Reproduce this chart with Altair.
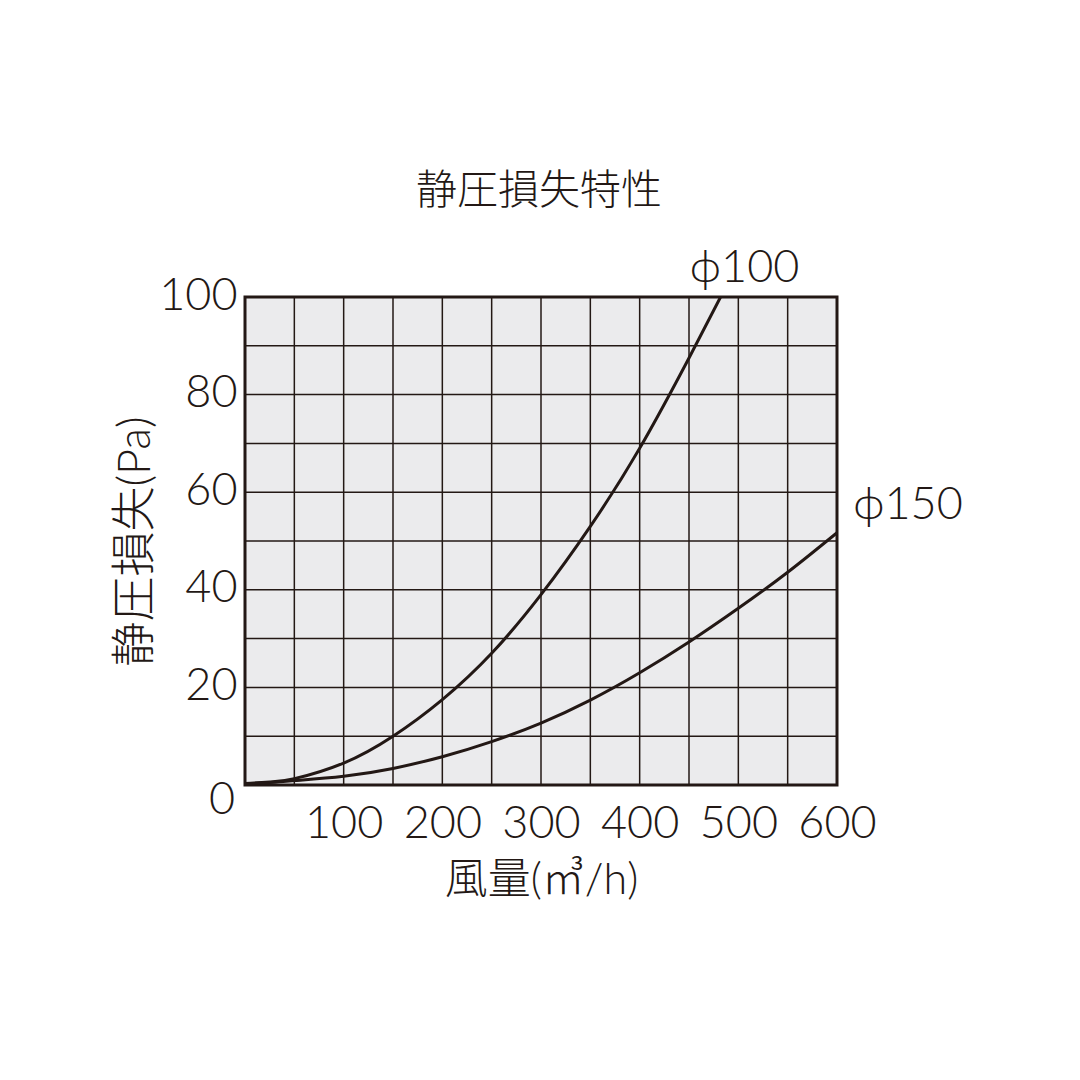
import altair as alt
import pandas as pd

# --- data ---
flow = [0, 25, 50, 100, 150, 200, 250, 300, 350, 400, 450, 482]
loss_100 = [0.3, 0.6, 1.3, 4.5, 10.0, 17.5, 27.0, 39.0, 53.0, 69.0, 87.5, 100.0]

flow_150 = [0, 25, 50, 100, 150, 200, 250, 300, 350, 400, 450, 500, 550, 600]
loss_150 = [0.3, 0.5, 0.9, 1.8, 3.4, 5.8, 8.9, 12.7, 17.4, 23.0, 29.3, 36.2, 43.6, 51.7]

x_grid = [50, 100, 150, 200, 250, 300, 350, 400, 450, 500, 550]
y_grid = [10, 20, 30, 40, 50, 60, 70, 80, 90]
x_ticks = [100, 200, 300, 400, 500, 600]
y_ticks = [20, 40, 60, 80, 100]

series_names = ["ϕ100", "ϕ150"]

INK = "#231815"
FONT = "Lato, Noto Sans CJK JP"
NUMW = 300
NUMS = 45

df = pd.concat([
    pd.DataFrame({"flow": flow, "loss": loss_100, "series": series_names[0]}),
    pd.DataFrame({"flow": flow_150, "loss": loss_150, "series": series_names[1]}),
])

xs = alt.Scale(domain=[0, 600], nice=False, zero=True)
ys = alt.Scale(domain=[0, 100], nice=False, zero=True)

x_axis = alt.Axis(values=x_ticks, grid=False, ticks=False, domain=False,
                  labelFontSize=NUMS, labelFont=FONT, labelFontWeight=NUMW, labelColor=INK,
                  labelBaseline="alphabetic", labelPadding=52, labelFlush=False,
                  labelOverlap=False,
                  title="風量(㎥/h)", titleFont=FONT, titleFontSize=43,
                  titleFontWeight=NUMW, titleColor=INK,
                  titleX=296, titleY=95, titleBaseline="middle", titleAlign="center")
y_axis = alt.Axis(values=y_ticks, grid=False, ticks=False, domain=False,
                  labelFontSize=NUMS, labelFont=FONT, labelFontWeight=NUMW, labelColor=INK,
                  labelBaseline="middle", labelPadding=8, labelFlush=False,
                  labelOverlap=False, labelOffset=-2,
                  title="静圧損失(Pa)", titleFont=FONT, titleFontSize=45,
                  titleFontWeight=NUMW, titleColor=INK, titleAngle=270,
                  titleX=-110, titleY=244, titleBaseline="middle", titleAlign="center")

vgrid = alt.Chart(pd.DataFrame({"g": x_grid})).mark_rule(color=INK, strokeWidth=1.5).encode(
    x=alt.X("g:Q", scale=xs, axis=x_axis))
hgrid = alt.Chart(pd.DataFrame({"g": y_grid})).mark_rule(color=INK, strokeWidth=1.5).encode(
    y=alt.Y("g:Q", scale=ys, axis=y_axis))

lines = alt.Chart(df).mark_line(color=INK, strokeWidth=3, interpolate="natural", clip=True).encode(
    x=alt.X("flow:Q", scale=xs),
    y=alt.Y("loss:Q", scale=ys),
    detail="series:N",
)

ends = pd.DataFrame({
    "flow": [flow[-1], flow_150[-1]],
    "loss": [loss_100[-1], loss_150[-1]],
    "series": series_names,
})
lab100 = alt.Chart(ends.iloc[[0]]).mark_text(
    font=FONT, fontSize=NUMS, fontWeight=NUMW, color=INK,
    align="center", baseline="middle", dx=24, dy=-29
).encode(x=alt.X("flow:Q", scale=xs), y=alt.Y("loss:Q", scale=ys), text="series:N")
lab150 = alt.Chart(ends.iloc[[1]]).mark_text(
    font=FONT, fontSize=NUMS, fontWeight=NUMW, color=INK,
    align="center", baseline="middle", dx=71, dy=-28
).encode(x=alt.X("flow:Q", scale=xs), y=alt.Y("loss:Q", scale=ys), text="series:N")

zero = alt.Chart(pd.DataFrame({"flow": [0], "loss": [0], "t": ["0"]})).mark_text(
    font=FONT, fontSize=NUMS, fontWeight=NUMW, color=INK, align="center", baseline="middle",
    dx=-23, dy=15
).encode(x=alt.X("flow:Q", scale=xs), y=alt.Y("loss:Q", scale=ys), text="t:N")

title = alt.Chart(pd.DataFrame({"t": ["静圧損失特性"]})).mark_text(
    font=FONT, fontSize=41, fontWeight=NUMW, color=INK, align="center", baseline="middle"
).encode(x=alt.value(294), y=alt.value(-105), text="t:N")

chart = alt.layer(vgrid, hgrid, lines, lab100, lab150, zero, title).properties(
    width=592, height=488,
    background="white",
    autosize=alt.AutoSizeParams(type="none"),
    padding={"left": 237, "top": 289, "right": 230, "bottom": 280},
).configure_view(
    fill="#ebebed", stroke=INK, strokeWidth=3
)

chart.save("out.html", embed_options={"renderer": "svg", "actions": False})
